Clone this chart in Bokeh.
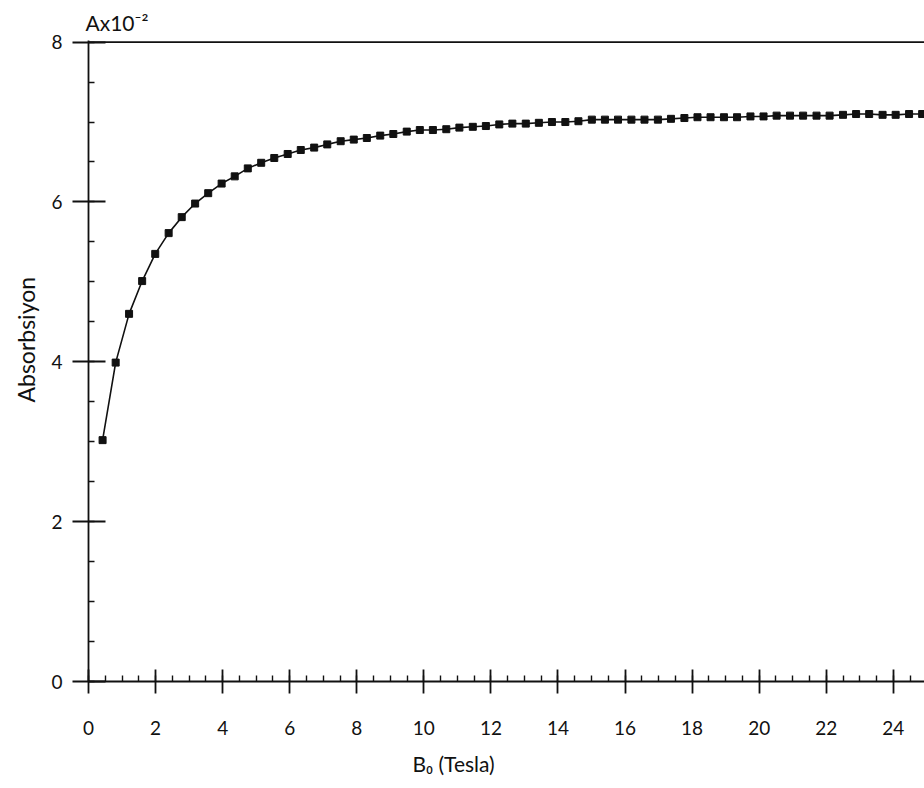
from bokeh.plotting import figure
from bokeh.models import Range1d, Span, Title, FixedTicker
from bokeh.embed import file_html
from bokeh.resources import INLINE

# Magnetic field B0 (Tesla)
b0 = [0.42, 0.81, 1.21, 1.60, 1.99, 2.39, 2.78, 3.18, 3.57, 3.97,
      4.36, 4.75, 5.15, 5.54, 5.94, 6.33, 6.73, 7.12, 7.52, 7.91,
      8.30, 8.70, 9.09, 9.49, 9.88, 10.27, 10.67, 11.06, 11.46, 11.85,
      12.25, 12.64, 13.04, 13.43, 13.82, 14.22, 14.61, 15.01, 15.40, 15.79,
      16.19, 16.58, 16.98, 17.37, 17.77, 18.16, 18.55, 18.95, 19.34, 19.74,
      20.13, 20.52, 20.92, 21.31, 21.71, 22.10, 22.50, 22.89, 23.28, 23.68,
      24.07, 24.47, 24.86]
# Absorption (x 10^-2)
absorb = [3.02, 3.99, 4.60, 5.01, 5.35, 5.61, 5.81, 5.98, 6.11, 6.23,
          6.32, 6.42, 6.49, 6.55, 6.60, 6.65, 6.68, 6.72, 6.76, 6.78,
          6.80, 6.83, 6.85, 6.88, 6.90, 6.90, 6.91, 6.93, 6.94, 6.95,
          6.97, 6.98, 6.98, 6.99, 7.00, 7.00, 7.01, 7.03, 7.03, 7.03,
          7.03, 7.03, 7.03, 7.04, 7.05, 7.06, 7.06, 7.06, 7.06, 7.07,
          7.07, 7.08, 7.08, 7.08, 7.08, 7.08, 7.09, 7.10, 7.10, 7.09,
          7.09, 7.10, 7.10]

x_ticks = [0, 2, 4, 6, 8, 10, 12, 14, 16, 18, 20, 22, 24]
y_ticks = [0, 2, 4, 6, 8]
x_label = "B\u2080 (Tesla)"
y_label = "Absorbsiyon"
unit_label = "Ax10\u207b\u00b2"

FONT = "Lato"
INK = "#111111"

p = figure(width=924, height=788, output_backend="svg", toolbar_location=None,
           x_range=Range1d(0, 24.93), y_range=Range1d(0, 8.02),
           min_border_left=88, min_border_right=0, min_border_top=40,
           min_border_bottom=107)
p.outline_line_color = None
p.grid.grid_line_color = None
p.background_fill_color = "white"
p.border_fill_color = "white"

p.line(b0, absorb, line_color=INK, line_width=1.6)
p.scatter(b0, absorb, marker="square", size=7, fill_color=INK, line_color=INK)

# top frame line at y = 8
p.add_layout(Span(location=8, dimension="width", line_color=INK, line_width=1.8))

xa = p.xaxis[0]
xa.ticker = FixedTicker(ticks=x_ticks, minor_ticks=[i * 0.5 for i in range(0, 50)])
xa.axis_line_width = 1.8
xa.axis_line_color = INK
xa.major_tick_line_color = INK
xa.major_tick_line_width = 1.8
xa.major_tick_in = 12
xa.major_tick_out = 12
xa.minor_tick_line_color = INK
xa.minor_tick_line_width = 1.4
xa.minor_tick_in = 6
xa.minor_tick_out = 0
xa.major_label_standoff = 27
xa.major_label_text_font = FONT
xa.major_label_text_font_size = "19px"
xa.major_label_text_color = INK

ya = p.yaxis[0]
ya.ticker = FixedTicker(ticks=y_ticks, minor_ticks=[i * 0.5 for i in range(0, 17)])
ya.axis_line_width = 1.8
ya.axis_line_color = INK
ya.major_tick_line_color = INK
ya.major_tick_line_width = 1.8
ya.major_tick_in = 17
ya.major_tick_out = 16
ya.minor_tick_line_color = INK
ya.minor_tick_line_width = 1.4
ya.minor_tick_in = 6
ya.minor_tick_out = 0
ya.major_label_standoff = 10
ya.major_label_text_font = FONT
ya.major_label_text_font_size = "19px"
ya.major_label_text_color = INK

p.add_layout(Title(text=unit_label, align="left", offset=-3, text_font=FONT,
                   text_font_size="21px", text_font_style="normal",
                   text_color=INK, standoff=8, vertical_align="top"), "above")
p.add_layout(Title(text=x_label, align="left", offset=324, text_font=FONT,
                   text_font_size="21px", text_font_style="normal",
                   text_color=INK, standoff=23), "below")
p.add_layout(Title(text=y_label, align="left", offset=279, text_font=FONT,
                   text_font_size="23px", text_font_style="normal",
                   text_color=INK, standoff=18), "left")

open("out.html", "w").write(file_html(p, INLINE))
